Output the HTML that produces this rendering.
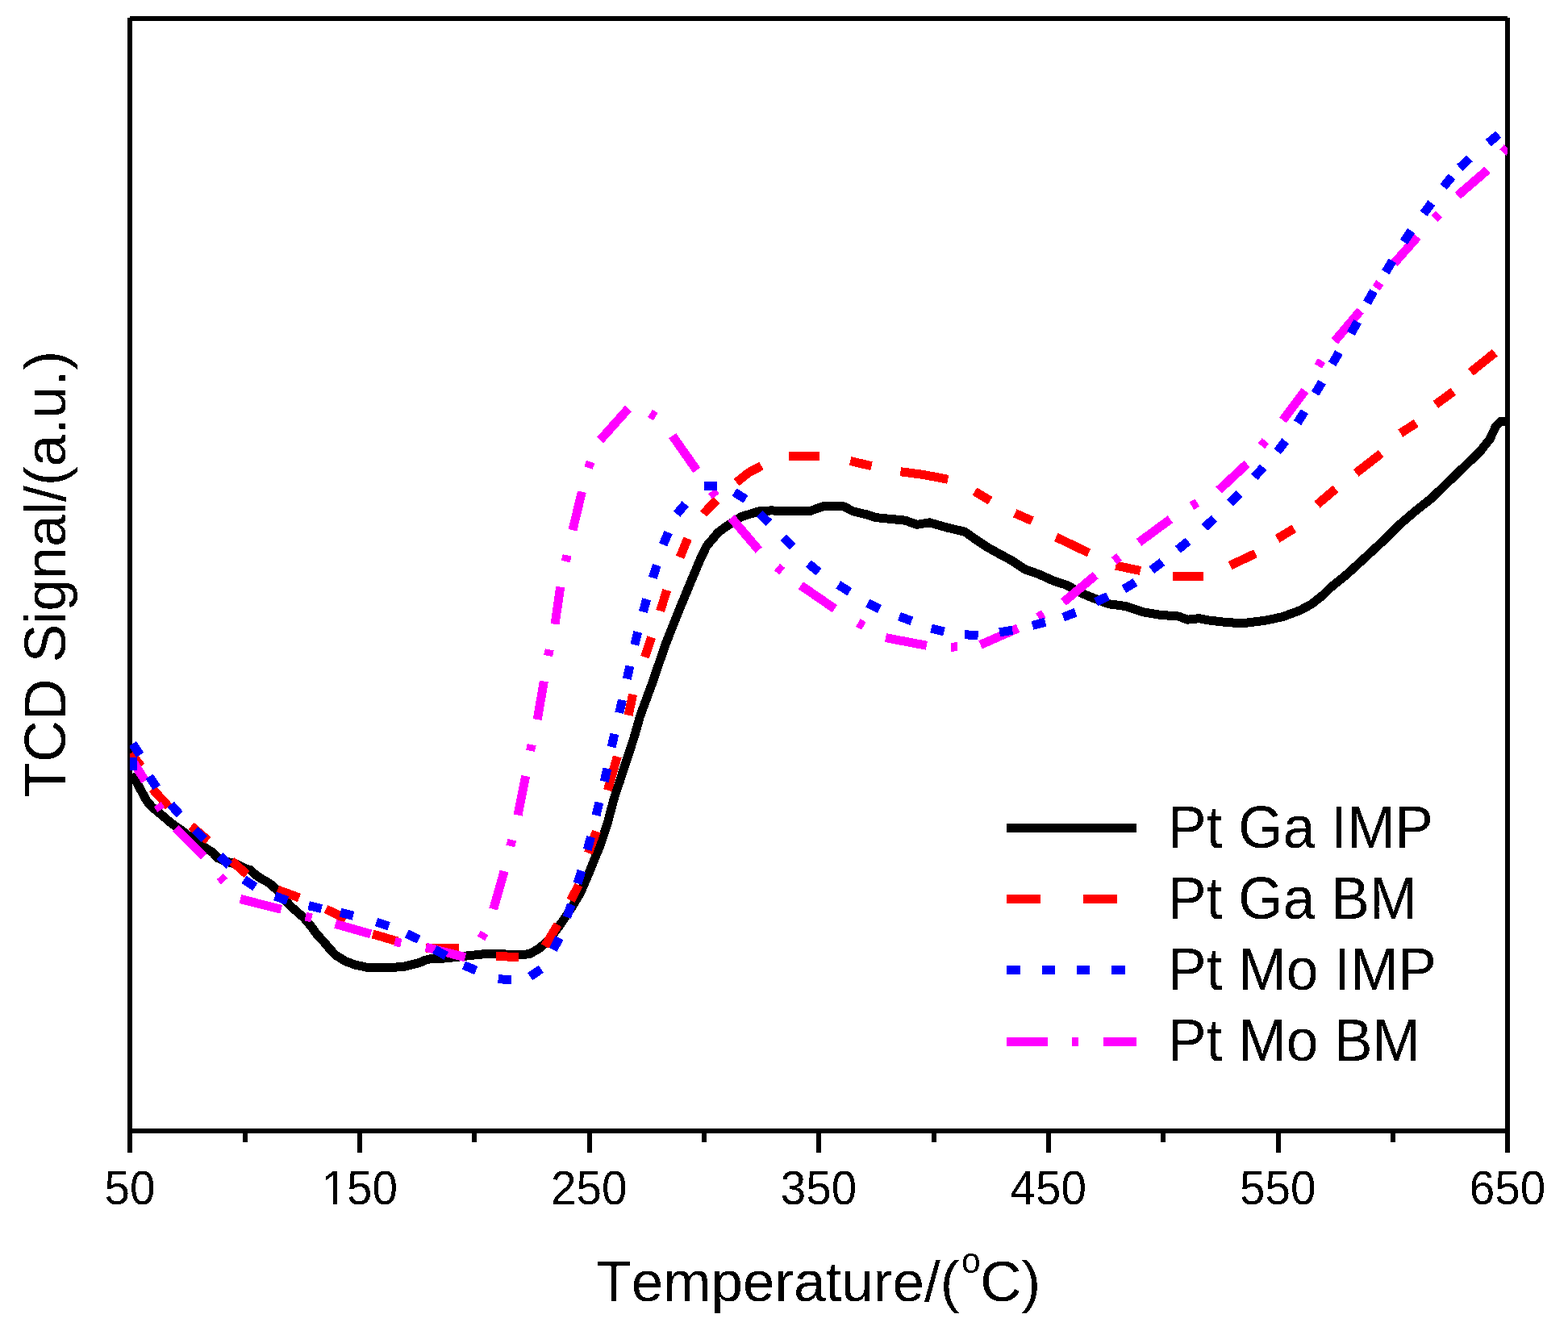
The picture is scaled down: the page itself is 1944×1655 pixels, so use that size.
<!DOCTYPE html>
<html><head><meta charset="utf-8"><title>TCD Signal vs Temperature</title>
<style>
html,body{margin:0;padding:0;background:#fff;}
svg{display:block;}
text{font-family:"Liberation Sans",Arial,sans-serif;fill:#000;font-kerning:none;font-feature-settings:"kern" 0;}
.tk{font-size:56.6px;}
.ax{font-size:71.3px;}
.lg{font-size:71.3px;}
</style></head>
<body>
<svg width="1944" height="1655" viewBox="0 0 1944 1655">
<rect width="1944" height="1655" fill="#fff"/>
<g fill="#000">
<rect x="158" y="22" width="6" height="1407"/>
<rect x="161" y="20" width="1708" height="6"/>
<rect x="1866" y="22" width="6" height="1407"/>
<rect x="158" y="1399" width="1714" height="6"/>
<rect x="158" y="1405" width="6" height="24" fill="#000"/><rect x="301" y="1405" width="6" height="11" fill="#000"/><rect x="443" y="1405" width="6" height="24" fill="#000"/><rect x="585" y="1405" width="6" height="11" fill="#000"/><rect x="728" y="1405" width="6" height="24" fill="#000"/><rect x="870" y="1405" width="6" height="11" fill="#000"/><rect x="1012" y="1405" width="6" height="24" fill="#000"/><rect x="1155" y="1405" width="6" height="11" fill="#000"/><rect x="1297" y="1405" width="6" height="24" fill="#000"/><rect x="1439" y="1405" width="6" height="11" fill="#000"/><rect x="1582" y="1405" width="6" height="24" fill="#000"/><rect x="1724" y="1405" width="6" height="11" fill="#000"/><rect x="1866" y="1405" width="6" height="24" fill="#000"/>
</g>
<defs><filter id="bin" x="-5%" y="-5%" width="110%" height="110%" color-interpolation-filters="sRGB"><feComponentTransfer><feFuncA type="discrete" tableValues="0 1"/></feComponentTransfer></filter><clipPath id="c150"><rect x="380" y="1430" width="130" height="58"/><rect x="412.9" y="1486" width="5.3" height="10"/><rect x="429" y="1486" width="80" height="10"/></clipPath><clipPath id="pa"><rect x="161" y="23" width="1708" height="1379"/></clipPath></defs>
<g shape-rendering="crispEdges" clip-path="url(#pa)">
<polyline points="164,959 170,971 176,982 182,993 188,1000 200,1010 213,1021 226,1030 241,1042 256,1052 263.4,1056.5 270.1,1063.8 276.8,1066.5 283.5,1068.8 293.5,1071.6 303.6,1076.5 310.3,1078.5 317.6,1085.2 325,1089.9 330.3,1092.6 335.7,1096.3 340.4,1100.6 345,1105 350,1112 361,1124 369,1131 377,1138 385,1147.5 393,1158.5 401,1167 408.5,1176 416,1184 428,1191.5 440,1196 456,1199.5 471,1200 485,1199.4 500,1198.5 506,1197 514,1195 520.4,1193.4 526.5,1190.6 534.6,1188.5 549.4,1188.1 561.7,1186.9 580.2,1184.8 598.8,1182.9 614.2,1182.3 644,1184 657,1182.5 669,1175.5 681,1164.5 695.5,1145 707.5,1127 719.5,1107 731.4,1079.4 743.4,1049.5 753.4,1019.6 761.3,989.7 769.3,965.8 778.3,937.9 786.5,913 793.5,888 808.5,847.2 825.3,798.3 841.5,757.5 855,724.8 867.5,694.9 876,677 890,660.5 900.6,652.5 919.3,640.5 940.5,634 956,632.9 979,633.8 1003.4,633.8 1021,627.6 1045.5,627.6 1057.7,633.8 1075.3,638.1 1085.8,641.6 1122.6,645.2 1136.6,650.4 1152.4,647.8 1173.4,653.9 1196.2,659.2 1208.4,667.9 1224.2,678.5 1240,687.2 1255.6,695.6 1270.4,705.7 1288.9,712.2 1307.4,720.6 1322.2,725.2 1338.9,734.4 1351.9,740 1374.4,748.7 1396,751.6 1417.6,758.8 1439.2,762.4 1460.8,764 1472.3,768.2 1486.7,766.7 1498.3,768.9 1518.4,771.3 1540,772.8 1568.8,769.2 1590.4,764.6 1612,756.6 1626.4,748.7 1640,737.9 1648.9,729 1669.3,712.5 1692.9,690.9 1713.3,672 1733.7,651.6 1755.7,632.8 1774.6,617.9 1796.6,596.6 1818.6,575.4 1834.3,560.5 1846.8,544.8 1854.7,528.3 1861,522.3 1869,522.5" stroke="#000" stroke-width="11" fill="none" stroke-linejoin="round"/>
<polyline points="162,934 175,950" stroke="#f00" stroke-width="11" fill="none"/>
<polyline points="189,978 209,1000" stroke="#f00" stroke-width="11" fill="none"/>
<polyline points="237,1024 258,1042" stroke="#f00" stroke-width="11" fill="none"/>
<polyline points="287,1067 306,1084" stroke="#f00" stroke-width="11" fill="none"/>
<polyline points="344,1103 371,1113" stroke="#f00" stroke-width="11" fill="none"/>
<polyline points="404,1127 429,1139" stroke="#f00" stroke-width="11" fill="none"/>
<polyline points="462,1158 493,1167" stroke="#f00" stroke-width="11" fill="none"/>
<polyline points="528,1175 569,1175" stroke="#f00" stroke-width="11" fill="none"/>
<polyline points="615,1185 643,1187" stroke="#f00" stroke-width="11" fill="none"/>
<polyline points="675.6,1173 691.6,1146.2" stroke="#f00" stroke-width="11" fill="none"/>
<polyline points="707.5,1116.3 717.5,1097.3" stroke="#f00" stroke-width="11" fill="none"/>
<polyline points="729.4,1057.5 739.4,1030.6" stroke="#f00" stroke-width="11" fill="none"/>
<polyline points="753.4,979.7 765.3,937.9" stroke="#f00" stroke-width="11" fill="none"/>
<polyline points="779.1,886.7 784.6,860.8" stroke="#f00" stroke-width="11" fill="none"/>
<polyline points="799.5,814.6 807.7,790.1" stroke="#f00" stroke-width="11" fill="none"/>
<polyline points="818.6,757.5 826.7,731.6" stroke="#f00" stroke-width="11" fill="none"/>
<polyline points="843.1,690.8 852.6,667.7" stroke="#f00" stroke-width="11" fill="none"/>
<polyline points="872,637 888.3,620" stroke="#f00" stroke-width="11" fill="none"/>
<polyline points="913,598 928,586 944,577.5" stroke="#f00" stroke-width="11" fill="none"/>
<polyline points="978,565.4 1015.7,565.4" stroke="#f00" stroke-width="11" fill="none"/>
<polyline points="1054.2,571.5 1080.5,577.7" stroke="#f00" stroke-width="11" fill="none"/>
<polyline points="1116.4,584.7 1145,588.5 1175.2,594.3" stroke="#f00" stroke-width="11" fill="none"/>
<polyline points="1208.4,609.2 1227.7,620.6" stroke="#f00" stroke-width="11" fill="none"/>
<polyline points="1258.3,636.3 1279.6,645.6" stroke="#f00" stroke-width="11" fill="none"/>
<polyline points="1309.3,665.9 1350,685.4" stroke="#f00" stroke-width="11" fill="none"/>
<polyline points="1383.3,701.1 1413.9,707.6" stroke="#f00" stroke-width="11" fill="none"/>
<polyline points="1453.7,714 1491.7,714" stroke="#f00" stroke-width="11" fill="none"/>
<polyline points="1525,701.1 1556.5,686.3" stroke="#f00" stroke-width="11" fill="none"/>
<polyline points="1583.6,667.9 1604.3,655.3" stroke="#f00" stroke-width="11" fill="none"/>
<polyline points="1633,625.5 1655.9,606" stroke="#f00" stroke-width="11" fill="none"/>
<polyline points="1681.2,586.4 1712.2,562.3" stroke="#f00" stroke-width="11" fill="none"/>
<polyline points="1736.3,537.1 1755.8,524.5" stroke="#f00" stroke-width="11" fill="none"/>
<polyline points="1779.9,501.5 1801.7,485.4" stroke="#f00" stroke-width="11" fill="none"/>
<polyline points="1823.5,461.3 1853.4,437.2" stroke="#f00" stroke-width="11" fill="none"/>
<polyline points="166,946 180,968" stroke="#f0f" stroke-width="11" fill="none"/>
<polyline points="218,1027 252.7,1061.6" stroke="#f0f" stroke-width="11" fill="none"/>
<polyline points="298,1114.5 348.6,1127.3" stroke="#f0f" stroke-width="11" fill="none"/>
<polyline points="415.7,1145.4 459.8,1158" stroke="#f0f" stroke-width="11" fill="none"/>
<polyline points="528,1174.2 576.9,1186.8" stroke="#f0f" stroke-width="11" fill="none"/>
<polyline points="611.7,1127 625.1,1080" stroke="#f0f" stroke-width="11" fill="none"/>
<polyline points="642.1,1010.6 651.7,962" stroke="#f0f" stroke-width="11" fill="none"/>
<polyline points="666.2,892.1 674.4,844.5" stroke="#f0f" stroke-width="11" fill="none"/>
<polyline points="688,773.8 694.8,727.6" stroke="#f0f" stroke-width="11" fill="none"/>
<polyline points="710,657.2 721.4,609.7" stroke="#f0f" stroke-width="11" fill="none"/>
<polyline points="744.1,545.5 779,506.5" stroke="#f0f" stroke-width="11" fill="none"/>
<polyline points="833.7,540.2 863.8,583" stroke="#f0f" stroke-width="11" fill="none"/>
<polyline points="906.6,641.8 940.7,682" stroke="#f0f" stroke-width="11" fill="none"/>
<polyline points="992.9,725.8 1034.9,754.7" stroke="#f0f" stroke-width="11" fill="none"/>
<polyline points="1098,790.6 1148.9,800.3" stroke="#f0f" stroke-width="11" fill="none"/>
<polyline points="1215.5,799.4 1262,778.9" stroke="#f0f" stroke-width="11" fill="none"/>
<polyline points="1318.5,746.5 1358.3,713.1" stroke="#f0f" stroke-width="11" fill="none"/>
<polyline points="1412,672.4 1450.9,643.7" stroke="#f0f" stroke-width="11" fill="none"/>
<polyline points="1511.1,607.6 1546,575" stroke="#f0f" stroke-width="11" fill="none"/>
<polyline points="1590.5,521 1618,484.3" stroke="#f0f" stroke-width="11" fill="none"/>
<polyline points="1654.7,423 1686.6,385.2" stroke="#f0f" stroke-width="11" fill="none"/>
<polyline points="1728.5,326.4 1757.4,293.5" stroke="#f0f" stroke-width="11" fill="none"/>
<polyline points="1807.2,242.6 1844.1,210.7" stroke="#f0f" stroke-width="11" fill="none"/>
<polyline points="195.3,997.1 199.7,1003.9" stroke="#f0f" stroke-width="11" fill="none"/>
<polyline points="272.8,1086.6 278,1092.6" stroke="#f0f" stroke-width="11" fill="none"/>
<polyline points="378.7,1136 386.5,1138" stroke="#f0f" stroke-width="11" fill="none"/>
<polyline points="489.5,1167.4 497.3,1169.2" stroke="#f0f" stroke-width="11" fill="none"/>
<polyline points="596.5,1163.5 600.5,1156.5" stroke="#f0f" stroke-width="11" fill="none"/>
<polyline points="632.8,1049 634.8,1041.2" stroke="#f0f" stroke-width="11" fill="none"/>
<polyline points="657.6,930.9 659.2,923.1" stroke="#f0f" stroke-width="11" fill="none"/>
<polyline points="679.6,813.1 681.2,805.3" stroke="#f0f" stroke-width="11" fill="none"/>
<polyline points="701.4,696.1 703,688.3" stroke="#f0f" stroke-width="11" fill="none"/>
<polyline points="729.5,580.1 732.1,572.5" stroke="#f0f" stroke-width="11" fill="none"/>
<polyline points="806,512.4 812.8,516.6" stroke="#f0f" stroke-width="11" fill="none"/>
<polyline points="882.6,608.8 887.4,615.2" stroke="#f0f" stroke-width="11" fill="none"/>
<polyline points="963.5,703 969.7,708.2" stroke="#f0f" stroke-width="11" fill="none"/>
<polyline points="1063.9,772 1070.9,776" stroke="#f0f" stroke-width="11" fill="none"/>
<polyline points="1179,802.1 1187,801.9" stroke="#f0f" stroke-width="11" fill="none"/>
<polyline points="1286.9,765.1 1293.9,761.1" stroke="#f0f" stroke-width="11" fill="none"/>
<polyline points="1381.1,695.2 1387.5,690.4" stroke="#f0f" stroke-width="11" fill="none"/>
<polyline points="1477.5,627.3 1484.3,623.1" stroke="#f0f" stroke-width="11" fill="none"/>
<polyline points="1563.9,552.8 1568.9,546.6" stroke="#f0f" stroke-width="11" fill="none"/>
<polyline points="1634.3,453.9 1638.5,447.1" stroke="#f0f" stroke-width="11" fill="none"/>
<polyline points="1706.2,357 1710.8,350.4" stroke="#f0f" stroke-width="11" fill="none"/>
<polyline points="1778.5,271.1 1784.1,265.3" stroke="#f0f" stroke-width="11" fill="none"/>
<polyline points="1863.3,189 1868.7,183" stroke="#f0f" stroke-width="11" fill="none"/>
<polyline points="164.4,922.1 173.6,935.9" stroke="#00f" stroke-width="11" fill="none"/>
<polyline points="164.5,938.8 164.5,955.2" stroke="#00f" stroke-width="11" fill="none"/>
<polyline points="185.2,962.6 194.2,976.4" stroke="#00f" stroke-width="11" fill="none"/>
<polyline points="211.7,997.3 222.7,1009.7" stroke="#00f" stroke-width="11" fill="none"/>
<polyline points="241.7,1028.5 253.1,1040.3" stroke="#00f" stroke-width="11" fill="none"/>
<polyline points="272.5,1061.1 284.3,1072.7" stroke="#00f" stroke-width="11" fill="none"/>
<polyline points="302.5,1090.3 316.3,1099.5" stroke="#00f" stroke-width="11" fill="none"/>
<polyline points="340.9,1110.9 356.3,1116.5" stroke="#00f" stroke-width="11" fill="none"/>
<polyline points="382.7,1122.7 398.7,1126.5" stroke="#00f" stroke-width="11" fill="none"/>
<polyline points="422,1131.3 438,1135.3" stroke="#00f" stroke-width="11" fill="none"/>
<polyline points="466.4,1143 482,1148.2" stroke="#00f" stroke-width="11" fill="none"/>
<polyline points="504.3,1157.4 519.1,1164.6" stroke="#00f" stroke-width="11" fill="none"/>
<polyline points="538.8,1177 553.2,1185" stroke="#00f" stroke-width="11" fill="none"/>
<polyline points="575,1196.6 590.2,1203" stroke="#00f" stroke-width="11" fill="none"/>
<polyline points="617.6,1213.6 634,1214.8" stroke="#00f" stroke-width="11" fill="none"/>
<polyline points="657.2,1210.7 670.8,1201.3" stroke="#00f" stroke-width="11" fill="none"/>
<polyline points="685.7,1177.4 693.5,1162.8" stroke="#00f" stroke-width="11" fill="none"/>
<polyline points="702.8,1137 708.2,1121.4" stroke="#00f" stroke-width="11" fill="none"/>
<polyline points="716.1,1095.3 720.9,1079.5" stroke="#00f" stroke-width="11" fill="none"/>
<polyline points="728.3,1053.5 732.5,1037.5" stroke="#00f" stroke-width="11" fill="none"/>
<polyline points="739.1,1010.7 742.9,994.7" stroke="#00f" stroke-width="11" fill="none"/>
<polyline points="749.2,968.8 752.8,952.8" stroke="#00f" stroke-width="11" fill="none"/>
<polyline points="758.2,926.1 761.8,909.9" stroke="#00f" stroke-width="11" fill="none"/>
<polyline points="767.8,883.8 771.4,867.8" stroke="#00f" stroke-width="11" fill="none"/>
<polyline points="777.3,841.6 780.9,825.6" stroke="#00f" stroke-width="11" fill="none"/>
<polyline points="786.7,799.5 790.7,783.5" stroke="#00f" stroke-width="11" fill="none"/>
<polyline points="797.3,758.6 801.7,742.8" stroke="#00f" stroke-width="11" fill="none"/>
<polyline points="809.3,716.4 814.3,700.6" stroke="#00f" stroke-width="11" fill="none"/>
<polyline points="822.2,675.3 828.6,660.1" stroke="#00f" stroke-width="11" fill="none"/>
<polyline points="839.1,637.3 849.7,624.7" stroke="#00f" stroke-width="11" fill="none"/>
<polyline points="872.8,602.4 889.2,602.4" stroke="#00f" stroke-width="11" fill="none"/>
<polyline points="910.4,610.2 924.6,618.8" stroke="#00f" stroke-width="11" fill="none"/>
<polyline points="941.7,636.8 953.5,648.2" stroke="#00f" stroke-width="11" fill="none"/>
<polyline points="971.3,666.5 982.9,678.1" stroke="#00f" stroke-width="11" fill="none"/>
<polyline points="1002.3,698.7 1015.1,709.1" stroke="#00f" stroke-width="11" fill="none"/>
<polyline points="1039.3,724.9 1053.3,733.7" stroke="#00f" stroke-width="11" fill="none"/>
<polyline points="1075.7,747.5 1090.5,754.9" stroke="#00f" stroke-width="11" fill="none"/>
<polyline points="1114.9,764.1 1130.3,769.9" stroke="#00f" stroke-width="11" fill="none"/>
<polyline points="1154.4,779 1170.4,783" stroke="#00f" stroke-width="11" fill="none"/>
<polyline points="1196.2,786.9 1212.6,787.3" stroke="#00f" stroke-width="11" fill="none"/>
<polyline points="1239.1,783.9 1255.3,781.3" stroke="#00f" stroke-width="11" fill="none"/>
<polyline points="1280,775.4 1296,771.2" stroke="#00f" stroke-width="11" fill="none"/>
<polyline points="1318.2,765.2 1333.6,759.2" stroke="#00f" stroke-width="11" fill="none"/>
<polyline points="1358.7,746.4 1373.5,739.2" stroke="#00f" stroke-width="11" fill="none"/>
<polyline points="1393.3,730.4 1407.5,721.8" stroke="#00f" stroke-width="11" fill="none"/>
<polyline points="1427.7,706.7 1440.9,696.7" stroke="#00f" stroke-width="11" fill="none"/>
<polyline points="1460.3,681.3 1473.1,670.9" stroke="#00f" stroke-width="11" fill="none"/>
<polyline points="1493.3,653.9 1505.5,642.7" stroke="#00f" stroke-width="11" fill="none"/>
<polyline points="1524.8,623.7 1536.4,611.9" stroke="#00f" stroke-width="11" fill="none"/>
<polyline points="1555.2,591.4 1566.2,579.2" stroke="#00f" stroke-width="11" fill="none"/>
<polyline points="1583.7,559.7 1593.7,546.7" stroke="#00f" stroke-width="11" fill="none"/>
<polyline points="1608.6,524.1 1617.4,510.1" stroke="#00f" stroke-width="11" fill="none"/>
<polyline points="1630.6,487.9 1639,473.7" stroke="#00f" stroke-width="11" fill="none"/>
<polyline points="1651.6,451.2 1660,437" stroke="#00f" stroke-width="11" fill="none"/>
<polyline points="1674.9,413.3 1683.1,398.9" stroke="#00f" stroke-width="11" fill="none"/>
<polyline points="1694.9,375.4 1703.1,361" stroke="#00f" stroke-width="11" fill="none"/>
<polyline points="1717.8,337.4 1726.4,323.4" stroke="#00f" stroke-width="11" fill="none"/>
<polyline points="1740.4,300 1749.6,286.2" stroke="#00f" stroke-width="11" fill="none"/>
<polyline points="1765,264.8 1774.8,251.6" stroke="#00f" stroke-width="11" fill="none"/>
<polyline points="1789.6,231.7 1800,218.9" stroke="#00f" stroke-width="11" fill="none"/>
<polyline points="1809.8,207.9 1821.8,196.5" stroke="#00f" stroke-width="11" fill="none"/>
<polyline points="1845.2,177.2 1857.8,166.6" stroke="#00f" stroke-width="11" fill="none"/>
</g>
<g filter="url(#bin)">
<text transform="translate(161,1492.6) scale(1,1.045)" text-anchor="middle" class="tk">50</text><g clip-path="url(#c150)"><text transform="translate(445.7,1492.6) scale(1,1.045)" text-anchor="middle" class="tk">150</text></g><text transform="translate(730.3,1492.6) scale(1,1.045)" text-anchor="middle" class="tk">250</text><text transform="translate(1015,1492.6) scale(1,1.045)" text-anchor="middle" class="tk">350</text><text transform="translate(1299.7,1492.6) scale(1,1.045)" text-anchor="middle" class="tk">450</text><text transform="translate(1584.3,1492.6) scale(1,1.045)" text-anchor="middle" class="tk">550</text><text transform="translate(1869,1492.6) scale(1,1.045)" text-anchor="middle" class="tk">650</text>
<text class="ax" style="font-size:71.05px" transform="translate(739.3,1613)">Temperature/(</text>
<text class="ax" style="font-size:42.5px" transform="translate(1192,1577.6) scale(1,1.04)">o</text>
<text class="ax" style="font-size:71.05px" transform="translate(1215.2,1613)">C)</text>
<text class="ax" style="font-size:71.7px" transform="translate(81,988.6) rotate(-90)">TCD Signal/(a.u.)</text>
<g>
<rect x="1248" y="1021" width="161" height="11" fill="#000"/>
<rect x="1248" y="1109" width="42" height="11" fill="#f00"/>
<rect x="1343" y="1109" width="42" height="11" fill="#f00"/>
<rect x="1248" y="1197" width="17" height="11" fill="#00f"/>
<rect x="1292" y="1197" width="16" height="11" fill="#00f"/>
<rect x="1335" y="1197" width="16" height="11" fill="#00f"/>
<rect x="1378" y="1197" width="17" height="11" fill="#00f"/>
<rect x="1248" y="1286" width="51" height="11" fill="#f0f"/>
<rect x="1329" y="1286" width="8" height="11" fill="#f0f"/>
<rect x="1368" y="1286" width="41" height="11" fill="#f0f"/>
</g>
<text class="lg" transform="translate(1448.1,1051) scale(1,1.04)">Pt Ga IMP</text>
<text class="lg" transform="translate(1448.1,1139) scale(1,1.04)">Pt Ga BM</text>
<text class="lg" transform="translate(1448.1,1227) scale(1,1.04)">Pt Mo IMP</text>
<text class="lg" transform="translate(1448.1,1315) scale(1,1.04)">Pt Mo BM</text>
</g>
</svg>
</body></html>
